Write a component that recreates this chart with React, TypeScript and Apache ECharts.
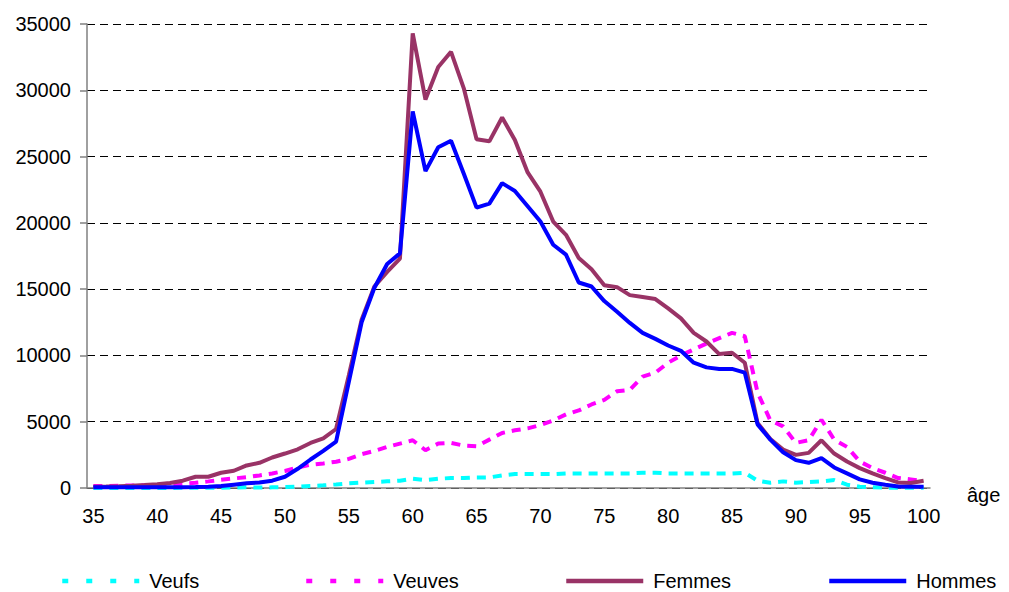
import React, { useEffect, useRef } from "react";
import * as echarts from "echarts";

const ages = [
  "35","36","37","38","39","40","41","42","43","44",
  "45","46","47","48","49","50","51","52","53","54",
  "55","56","57","58","59","60","61","62","63","64",
  "65","66","67","68","69","70","71","72","73","74",
  "75","76","77","78","79","80","81","82","83","84",
  "85","86","87","88","89","90","91","92","93","94",
  "95","96","97","98","99","100",
];

const veufs = [
  5,5,5,5,5,5,8,10,12,15,
  20,40,60,30,50,70,100,150,200,270,
  350,400,450,500,550,700,600,700,750,750,
  800,800,950,1050,1050,1050,1050,1100,1100,1100,
  1100,1100,1100,1150,1150,1100,1100,1100,1100,1100,
  1100,1150,550,400,500,400,450,500,600,250,
  100,50,30,20,10,10,
];

const veuves = [
  150,150,170,190,210,230,270,320,400,500,
  620,720,820,950,1100,1280,1550,1750,1850,1980,
  2200,2550,2800,3100,3350,3600,2850,3350,3400,3200,
  3150,3650,4150,4350,4500,4750,5100,5550,5850,6300,
  6650,7300,7400,8400,8700,9450,10000,10450,10900,11300,
  11700,11450,7200,5100,4650,3400,3600,5150,3650,3100,
  2000,1500,1150,750,650,500,
];

const femmes = [
  100,110,130,170,220,280,380,550,850,850,
  1150,1300,1700,1900,2300,2600,2920,3400,3750,4450,
  8500,12700,15200,16300,17300,34300,29300,31750,32900,30150,
  26300,26150,27950,26250,23800,22350,20100,19100,17350,16500,
  15300,15150,14550,14400,14250,13550,12800,11700,11050,10100,
  10200,9450,4900,3700,2900,2500,2650,3600,2600,2000,
  1500,1100,750,420,380,550,
];

const hommes = [
  50,50,50,50,50,50,50,50,70,100,
  150,250,350,420,550,850,1450,2150,2800,3500,
  8000,12500,15100,16900,17700,28400,23900,25700,26200,23700,
  21150,21450,23000,22400,21250,20100,18350,17600,15500,15200,
  14100,13300,12450,11700,11250,10750,10350,9450,9100,8980,
  8980,8700,4800,3650,2700,2100,1900,2250,1550,1100,
  650,400,250,120,100,100,
];

const FONT = "'Liberation Sans', Arial, sans-serif";

export default function App() {
  const ref = useRef<HTMLDivElement>(null);
  useEffect(() => {
    document.body.style.margin = "0";
    if (!ref.current) return;
    const chart = echarts.init(ref.current, undefined, { renderer: "svg" });
    const legendBase = (name: string, left: number, dashed: boolean) => ({
      data: [name],
      left,
      top: 566,
      itemWidth: 77,
      itemHeight: 14,
      itemStyle: { opacity: 0 },
      lineStyle: { width: 4.5, type: dashed ? [6, 18] : "solid", cap: "butt" },
      formatter: (n: string) => "{t|" + n + "}",
      textStyle: {
        fontSize: 20,
        color: "#000",
        fontFamily: FONT,
        rich: { t: { fontSize: 20, color: "#000", fontFamily: FONT, padding: [0, 0, 0, 5] } },
      },
    });
    chart.setOption({
      animation: false,
      backgroundColor: "#fff",
      textStyle: { fontFamily: FONT },
      grid: { left: 87, right: 79, top: 24, bottom: 104, containLabel: false },
      legend: [
        legendBase("Veufs", 55, true),
        legendBase("Veuves", 299, true),
        legendBase("Femmes", 559, false),
        legendBase("Hommes", 822, false),
      ],
      xAxis: {
        type: "category",
        data: ages,
        boundaryGap: true,
        name: "âge",
        nameLocation: "end",
        nameGap: 37,
        nameTextStyle: {
          fontSize: 20,
          color: "#000",
          fontFamily: FONT,
          verticalAlign: "top",
          lineHeight: 14,
        },
        axisLine: { lineStyle: { color: "#808080", width: 1.5 } },
        axisTick: { interval: 4, length: 7, lineStyle: { color: "#808080", width: 1.5 } },
        axisLabel: { interval: 4, fontSize: 20, color: "#000", margin: 18, fontFamily: FONT },
        splitLine: { show: false },
      },
      yAxis: {
        type: "value",
        min: 0,
        max: 35000,
        interval: 5000,
        axisLine: { show: true, lineStyle: { color: "#808080", width: 1.5 } },
        axisTick: { show: true, length: 7, lineStyle: { color: "#808080", width: 1.5 } },
        axisLabel: {
          fontSize: 20,
          color: "#000",
          margin: 16,
          fontFamily: FONT,
          formatter: (v: number) => String(v),
        },
        splitLine: { show: true, lineStyle: { color: "#000", width: 1, type: [8, 5] } },
      },
      series: [
        {
          name: "Veufs",
          type: "line",
          data: veufs,
          symbol: "none",
          color: "#00FFFF",
          lineStyle: { color: "#00FFFF", width: 4, type: [9, 7] },
        },
        {
          name: "Veuves",
          type: "line",
          data: veuves,
          symbol: "none",
          color: "#FF00FF",
          lineStyle: { color: "#FF00FF", width: 4, type: [9, 7] },
        },
        {
          name: "Femmes",
          type: "line",
          data: femmes,
          symbol: "none",
          color: "#993366",
          lineStyle: { color: "#993366", width: 4 },
        },
        {
          name: "Hommes",
          type: "line",
          data: hommes,
          symbol: "none",
          color: "#0000FF",
          lineStyle: { color: "#0000FF", width: 4 },
        },
      ],
    });
    return () => chart.dispose();
  }, []);
  return <div ref={ref} style={{ width: 1009, height: 592 }} />;
}
